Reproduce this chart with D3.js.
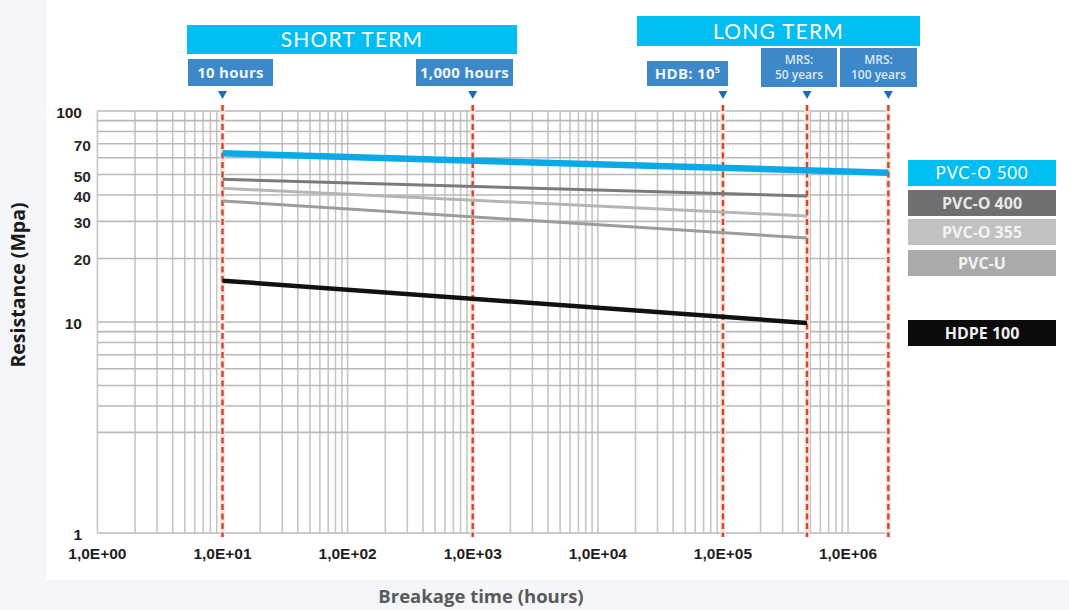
<!DOCTYPE html>
<html>
<head>
<meta charset="utf-8">
<script src="https://cdn.jsdelivr.net/npm/d3@7"></script>
<style>
  html, body { margin: 0; padding: 0; background: #f4f6f9; }
  svg { display: block; }
</style>
</head>
<body>
<svg id="chart" width="1069" height="610"></svg>
<script>
// Regression curves: hydrostatic strength (MPa) vs. time to failure (hours)
const seriesNames = ["PVC-O 500", "PVC-O 400", "PVC-O 355", "PVC-U", "HDPE 100"];
const startHours  = [10, 10, 10, 10, 10];
const endHours    = [2.1e6, 4.7e5, 4.7e5, 4.7e5, 4.7e5];
const startMpa    = [63, 47.5, 43, 37.5, 15.7];
const endMpa      = [51, 39.5, 31.8, 25, 9.9];

const xTickValues = [1, 10, 100, 1e3, 1e4, 1e5, 1e6];
const xTickLabels = ["1,0E+00", "1,0E+01", "1,0E+02", "1,0E+03", "1,0E+04", "1,0E+05", "1,0E+06"];
const yMajorTicks = [1, 10, 100];
const yMinorTicks = [20, 30, 40, 50, 70];
// horizontal grid values (the 2 MPa line is not drawn on this sheet)
const yGridValues = [1, 3, 4, 5, 6, 7, 8, 9, 10, 20, 30, 40, 50, 60, 70, 80, 90, 100];

const markerHours  = [10, 1000, 1e5, 4.7e5, 2.1e6];
const markerLabels = [["10 hours"], ["1,000 hours"], ["HDB: 10^5"], ["MRS:", "50 years"], ["MRS:", "100 years"]];
const phaseLabels  = ["SHORT TERM", "LONG TERM"];

// ---- styling / layout ----
const lineColors  = ["#0aaae8", "#7a7a7a", "#b5b5b5", "#9c9c9c", "#111111"];
const lineWidths  = [6.5, 3, 3, 3, 4.5];
const legendFills = ["#00bdf2", "#6f6f6f", "#c1c1c1", "#aaaaaa", "#0b0b0b"];
const legendText  = ["#ffffff", "#e8e8e8", "#f3f3f3", "#f3f3f3", "#f0f0f0"];
const legendTops  = [160, 190, 219, 250, 320];

const phaseBoxes  = [{x0: 187, x1: 517, y0: 25, y1: 54}, {x0: 637, x1: 920, y0: 16, y1: 46}];
const markerBoxes = [
  {x0: 188, x1: 273, y0: 59, y1: 86},
  {x0: 416, x1: 513, y0: 59, y1: 86},
  {x0: 647, x1: 728, y0: 61, y1: 86},
  {x0: 761, x1: 837, y0: 48, y1: 87},
  {x0: 840, x1: 917, y0: 48, y1: 87}
];

const svg = d3.select("#chart");

// white sheet
svg.append("rect").attr("x", 46).attr("y", 0).attr("width", 1023).attr("height", 580).attr("fill", "#ffffff");

const x = d3.scaleLog().domain([1, 2e6]).range([97.4, 885.7]);
const y = d3.scaleLog().domain([1, 100]).range([533, 111]);

// vertical grid: 1..9 x 10^d
const xGridValues = [];
for (let d = 0; d <= 5; d++) for (let k = 1; k <= 9; k++) xGridValues.push(k * Math.pow(10, d));
xGridValues.push(1e6);

const grid = svg.append("g");
grid.selectAll("line.v").data(xGridValues).join("line")
  .attr("x1", d => x(d)).attr("x2", d => x(d))
  .attr("y1", y(100)).attr("y2", y(1))
  .attr("stroke", "#c6c6c6").attr("stroke-width", 1.6);
grid.selectAll("line.h").data(yGridValues).join("line")
  .attr("x1", x(1)).attr("x2", x(2e6))
  .attr("y1", d => y(d)).attr("y2", d => y(d))
  .attr("stroke", "#b9b9b9").attr("stroke-width", 1.6);

// red dashed reference lines
const refs = svg.append("g");
refs.selectAll("line.halo").data(markerHours).join("line")
  .attr("x1", d => x(d)).attr("x2", d => x(d))
  .attr("y1", y(100) - 6).attr("y2", y(1) + 4)
  .attr("stroke", "#f6e4d6").attr("stroke-width", 5);
refs.selectAll("line.dash").data(markerHours).join("line")
  .attr("x1", d => x(d)).attr("x2", d => x(d))
  .attr("y1", y(100) - 6).attr("y2", y(1) + 4)
  .attr("stroke", "#cf4536").attr("stroke-width", 2.4)
  .attr("stroke-dasharray", "6,3.5");

// regression lines
const series = seriesNames.map((n, i) => ({
  name: n,
  pts: [[startHours[i], startMpa[i]], [endHours[i], endMpa[i]]],
  color: lineColors[i], width: lineWidths[i]
}));
const line = d3.line().x(d => x(d[0])).y(d => y(d[1]));
svg.append("g").selectAll("path").data(series.slice().reverse()).join("path")
  .attr("d", d => line(d.pts))
  .attr("fill", "none")
  .attr("stroke", d => d.color)
  .attr("stroke-width", d => d.width);

// axis tick labels
const tickFont = "'Liberation Sans', Arial, sans-serif";
svg.append("g").selectAll("text").data(xTickValues).join("text")
  .attr("x", d => x(d)).attr("y", 559)
  .attr("text-anchor", "middle")
  .attr("font-family", tickFont).attr("font-weight", "bold").attr("font-size", 15.5)
  .attr("fill", "#1e1e1e")
  .text((d, i) => xTickLabels[i]);

svg.append("g").selectAll("text").data(yMajorTicks).join("text")
  .attr("x", 82).attr("y", d => y(d) + 7)
  .attr("text-anchor", "end")
  .attr("font-family", tickFont).attr("font-weight", "bold").attr("font-size", 15.5)
  .attr("fill", "#1e1e1e")
  .text(d => d);
svg.append("g").selectAll("text").data(yMinorTicks).join("text")
  .attr("x", 91).attr("y", d => y(d) + 7)
  .attr("text-anchor", "end")
  .attr("font-family", tickFont).attr("font-weight", "bold").attr("font-size", 15.5)
  .attr("fill", "#2a2a2a")
  .text(d => d);

// axis titles
svg.append("text")
  .attr("transform", "translate(25,285) rotate(-90)")
  .attr("text-anchor", "middle")
  .attr("font-family", "'Open Sans', sans-serif").attr("font-weight", "bold").attr("font-size", 19.5)
  .attr("fill", "#1a1a1a")
  .text("Resistance (Mpa)");
svg.append("text")
  .attr("x", 481).attr("y", 603)
  .attr("text-anchor", "middle")
  .attr("font-family", "'Open Sans', sans-serif").attr("font-weight", "bold").attr("font-size", 18.5)
  .attr("fill", "#5a5a5a")
  .text("Breakage time (hours)");

// phase headers
const ph = svg.append("g").selectAll("g").data(phaseLabels).join("g");
ph.append("rect")
  .attr("x", (d, i) => phaseBoxes[i].x0).attr("y", (d, i) => phaseBoxes[i].y0)
  .attr("width", (d, i) => phaseBoxes[i].x1 - phaseBoxes[i].x0)
  .attr("height", (d, i) => phaseBoxes[i].y1 - phaseBoxes[i].y0)
  .attr("fill", "#00bef2");
ph.append("text")
  .attr("x", (d, i) => (phaseBoxes[i].x0 + phaseBoxes[i].x1) / 2)
  .attr("y", (d, i) => (phaseBoxes[i].y0 + phaseBoxes[i].y1) / 2 + 7.5)
  .attr("text-anchor", "middle")
  .attr("font-family", "Lato, sans-serif").attr("font-size", 21)
  .attr("letter-spacing", 1.2)
  .attr("fill", "#ffffff")
  .text(d => d);

// marker labels with pointers
const mk = svg.append("g").selectAll("g").data(markerHours).join("g");
mk.append("rect")
  .attr("x", (d, i) => markerBoxes[i].x0).attr("y", (d, i) => markerBoxes[i].y0)
  .attr("width", (d, i) => markerBoxes[i].x1 - markerBoxes[i].x0)
  .attr("height", (d, i) => markerBoxes[i].y1 - markerBoxes[i].y0)
  .attr("fill", "#3d88c8");
mk.each(function(d, i) {
  const g = d3.select(this);
  const b = markerBoxes[i];
  const cx = (b.x0 + b.x1) / 2;
  const lines = markerLabels[i];
  if (lines.length === 1) {
    const t = g.append("text")
      .attr("x", cx).attr("y", (b.y0 + b.y1) / 2 + 5.5)
      .attr("text-anchor", "middle")
      .attr("font-family", "'Open Sans', sans-serif").attr("font-weight", "bold").attr("font-size", 15)
      .attr("letter-spacing", 0.3)
      .attr("fill", "#eef4fb");
    const parts = lines[0].split("^");
    t.append("tspan").text(parts[0]);
    if (parts[1]) t.append("tspan").attr("dy", -6).attr("font-size", 9).text(parts[1]);
  } else {
    lines.forEach((s, j) => {
      g.append("text")
        .attr("x", cx).attr("y", b.y0 + 16 + j * 15)
        .attr("text-anchor", "middle")
        .attr("font-family", "'Open Sans', sans-serif").attr("font-weight", "600").attr("font-size", 12)
        .attr("fill", "#dfe9f5")
        .text(s);
    });
  }
  const tx = x(d);
  g.append("path")
    .attr("d", `M${tx - 4.5},91 L${tx + 4.5},91 L${tx},99 Z`)
    .attr("fill", "#1c6db4");
});

// legend
const lg = svg.append("g").selectAll("g").data(seriesNames).join("g");
lg.append("rect")
  .attr("x", 908).attr("y", (d, i) => legendTops[i])
  .attr("width", 148).attr("height", 26)
  .attr("fill", (d, i) => legendFills[i]);
lg.append("text")
  .attr("x", 982).attr("y", (d, i) => legendTops[i] + 19)
  .attr("text-anchor", "middle")
  .attr("font-family", (d, i) => i === 0 ? "Lato, sans-serif" : "'Open Sans', sans-serif")
  .attr("font-weight", (d, i) => i === 0 ? "normal" : "bold")
  .attr("font-size", (d, i) => i === 0 ? 17 : 16)
  .attr("letter-spacing", (d, i) => i === 0 ? 0.7 : 0)
  .attr("fill", (d, i) => legendText[i])
  .text(d => d);
</script>
</body>
</html>
